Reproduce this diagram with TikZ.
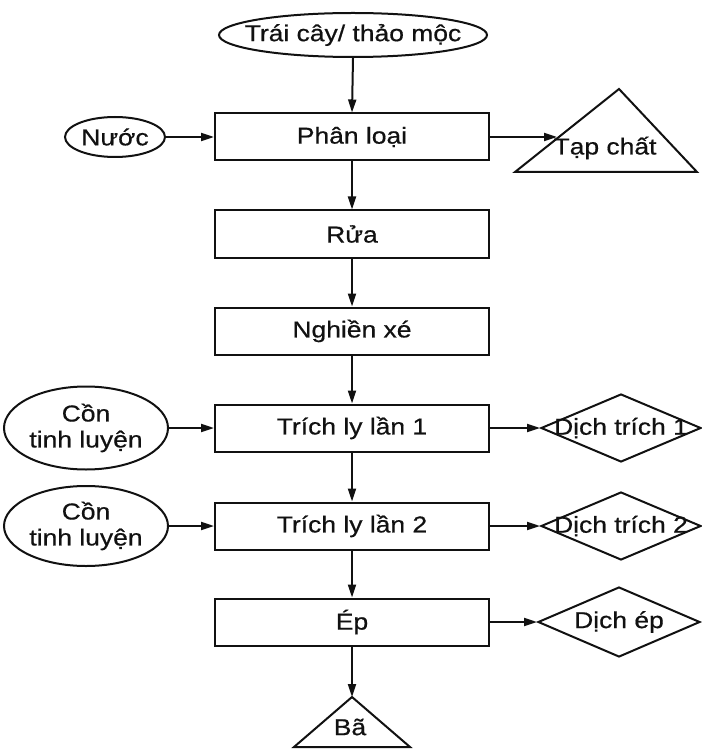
\documentclass[tikz,border=0pt]{standalone}
\usepackage{fontspec}
\setmainfont{Liberation Sans}[FakeStretch=1.15, FakeBold=0.6]
\usepackage{tikz}
\usetikzlibrary{positioning, arrows.meta, shapes.geometric, calc}
\definecolor{cInk}{HTML}{111111}

\begin{document}
\begin{tikzpicture}[x=1pt, y=-1pt, color=cInk, line width=2pt,
    font=\fontsize{23}{26}\selectfont,
    stage/.style={draw, rectangle, minimum width=274pt, minimum height=47pt, inner sep=0pt},
    feed/.style={draw, ellipse, inner sep=0pt, align=center},
    outlet/.style={draw, diamond, minimum width=160pt, minimum height=68pt, inner sep=0pt},
    flow/.style={-{Triangle[length=13pt, width=8pt]}}]
  \useasboundingbox (0,0) rectangle (701,751);

  % main column of process steps
  \foreach \n/\y/\t in {phanloai/137/Phân loại, rua/234/Rửa, nghien/331/Nghiền xé,
                        trich1/428/Trích ly lần 1, trich2/526/Trích ly lần 2, ep/622/Ép}
    \node[stage] (\n) at (352,\y) {\t};
  \foreach \a/\b in {phanloai/rua, rua/nghien, nghien/trich1, trich1/trich2, trich2/ep}
    \draw[flow] (\a.south) -- (\b.north);

  % inputs
  \node[feed, minimum width=268pt, minimum height=44pt, inner xsep=-30pt] (traicay) at (353,35) {Trái cây/ thảo mộc};
  \node[feed, minimum width=100pt, minimum height=40pt] (nuoc) at (115,137) {Nước};
  \node[feed, minimum width=164pt, minimum height=83pt] (con1) at (86,428) {Cồn\\tinh luyện};
  \node[feed, minimum width=164pt, minimum height=80pt] (con2) at (86,526) {Cồn\\tinh luyện};
  \draw[flow] (traicay.south) -- (phanloai.north);
  \draw[flow] (nuoc.east) -- (phanloai.west);
  \draw[flow] (con1.east) -- (trich1.west);
  \draw[flow] (con2.east) -- (trich2.west);

  % outputs
  \node[outlet, label=center:Dịch trích 1] (dich1) at (621,428) {};
  \node[outlet, label=center:Dịch trích 2] (dich2) at (621,526) {};
  \node[outlet, minimum width=162pt, minimum height=70pt, label=center:Dịch ép] (dichep) at (619,622) {};
  \draw[flow] (trich1.east) -- (dich1.west);
  \draw[flow] (trich2.east) -- (dich2.west);
  \draw[flow] (ep.east) -- (dichep.west);

  % waste triangles
  \draw[line join=miter] (515,172) -- (619,89) -- (697,172) -- cycle;
  \node (tapchat) at (605,148) {Tạp chất};
  \coordinate (tapin) at (557,137);
  \draw[flow] (phanloai.east) -- (tapin);

  \draw[line join=miter] (294,747) -- (352,697) -- (410,747) -- cycle;
  \node (ba) at (350,727) {Bã};
  \coordinate (batop) at (352,697);
  \draw[flow] (ep.south) -- (batop);
\end{tikzpicture}
\end{document}
